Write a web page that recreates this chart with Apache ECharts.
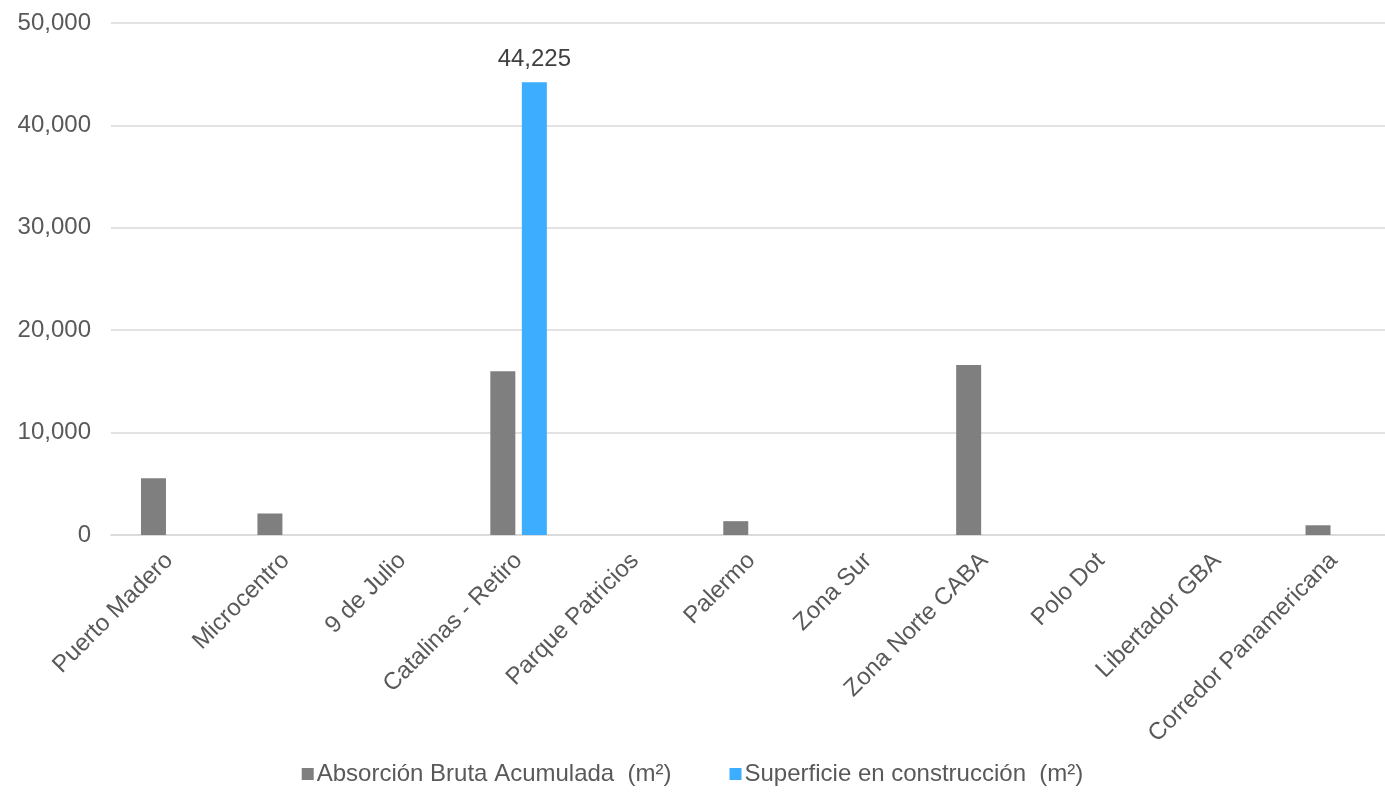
<!DOCTYPE html>
<html>
<head>
<meta charset="utf-8">
<script src="https://cdn.jsdelivr.net/npm/echarts@6/dist/echarts.min.js"></script>
<style>
  html, body { margin: 0; padding: 0; background: #ffffff; }
  #chart { width: 1385px; height: 795px; }
</style>
</head>
<body>
<div id="chart"></div>
<script>
// Submarkets on the category axis
const categories = [
  'Puerto Madero', 'Microcentro', '9 de Julio', 'Catalinas - Retiro',
  'Parque Patricios', 'Palermo', 'Zona Sur', 'Zona Norte CABA',
  'Polo Dot', 'Libertador GBA', 'Corredor Panamericana'
];

// Series names
const seriesNames = ['Absorción Bruta Acumulada  (m²)', 'Superficie en construcción  (m²)'];

// Gross absorption (m²)
const absorcion = [5550, 2100, 0, 16000, 0, 1350, 0, 16600, 0, 0, 950];

// Area under construction (m²)
const construccion = [null, null, null, 44225, null, null, null, null, null, null, null];

// Value axis ticks
const yMin = 0;
const yMax = 50000;
const yStep = 10000;

const FONT = '"Liberation Sans", Arial, sans-serif';
const TEXT = '#595959';

const chart = echarts.init(document.getElementById('chart'), null, { renderer: 'canvas' });

chart.setOption({
  backgroundColor: '#ffffff',
  animation: false,
  textStyle: { fontFamily: FONT },
  grid: {
    left: 111,
    right: -7,
    top: 23,
    bottom: 260,
    containLabel: false,
    outerBoundsMode: 'none'
  },
  legend: {
    bottom: 4,
    left: 'center',
    icon: 'rect',
    itemWidth: 12,
    itemHeight: 12,
    itemGap: 58,
    selectedMode: false,
    textStyle: { color: TEXT, fontSize: 24, fontFamily: FONT, padding: [0, 0, 0, -2] },
    data: seriesNames
  },
  xAxis: {
    type: 'category',
    data: categories,
    axisTick: { show: false },
    axisLine: { show: true, lineStyle: { color: '#D9D9D9', width: 1.5 } },
    axisLabel: {
      rotate: 45,
      interval: 0,
      margin: 22,
      color: TEXT,
      fontSize: 24,
      fontFamily: FONT
    }
  },
  yAxis: {
    type: 'value',
    min: yMin,
    max: yMax,
    interval: yStep,
    axisLine: { show: false },
    axisTick: { show: false },
    splitLine: { lineStyle: { color: '#D9D9D9', width: 1.5 } },
    axisLabel: {
      margin: 20,
      color: TEXT,
      fontSize: 24,
      fontFamily: FONT,
      formatter: v => v.toLocaleString('en-US')
    }
  },
  series: [
    {
      name: seriesNames[0],
      type: 'bar',
      data: absorcion,
      barWidth: 25,
      barGap: '26%',
      itemStyle: { color: '#7F7F7F' }
    },
    {
      name: seriesNames[1],
      type: 'bar',
      data: construccion,
      barWidth: 25,
      itemStyle: { color: '#3DADFF' },
      label: {
        show: true,
        position: 'top',
        distance: 11,
        color: '#404040',
        fontSize: 24,
        fontFamily: FONT,
        formatter: p => p.value == null ? '' : p.value.toLocaleString('en-US')
      }
    }
  ]
});
</script>
</body>
</html>
